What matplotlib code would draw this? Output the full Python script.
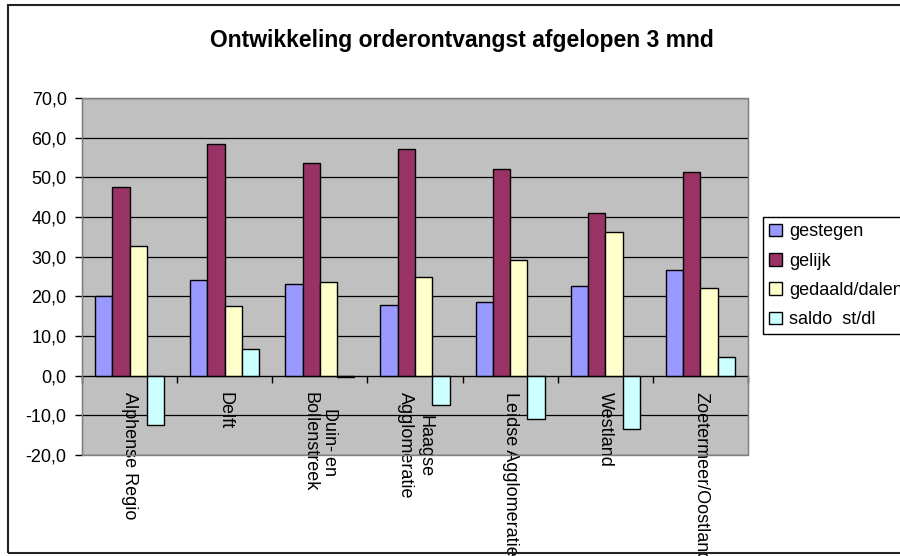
import matplotlib
matplotlib.use("Agg")
import matplotlib.pyplot as plt
from matplotlib.patches import Rectangle
from matplotlib.ticker import FuncFormatter, FixedLocator
import numpy as np

plt.rcParams['font.family'] = ['Liberation Sans', 'DejaVu Sans']

# data
regios = ["Alphense Regio", "Delft", "Duin- en\nBollenstreek", "Haagse\nAgglomeratie",
          "Leidse Agglomeratie", "Westland", "Zoetermeer/Oostland"]
gestegen = [20.0, 24.0, 23.0, 17.7, 18.5, 22.7, 26.6]
gelijk = [47.6, 58.5, 53.5, 57.1, 52.2, 40.9, 51.4]
gedaald = [32.6, 17.5, 23.5, 25.0, 29.2, 36.1, 22.0]
saldo = [-12.4, 6.7, -0.3, -7.3, -10.8, -13.4, 4.8]

series = [("gestegen", gestegen, "#9999FF"),
          ("gelijk", gelijk, "#993366"),
          ("gedaald/dalen", gedaald, "#FFFFCC"),
          ("saldo  st/dl", saldo, "#CCFFFF")]

fig = plt.figure(figsize=(9, 5.56), dpi=100)
ax = fig.add_axes([82/900, 1-455/556, 666/900, 357/556])
ax.set_facecolor("#C0C0C0")

n = len(regios)
x = np.arange(n)
w = 1/5.5
for k, (name, vals, col) in enumerate(series):
    ax.bar(x + 0.75*w + (k+0.5)*w, vals, width=w, color=col, edgecolor="black",
           linewidth=1, label=name, zorder=3)

ax.set_xlim(0, n)
ax.set_ylim(-20, 70)
ax.set_yticks(np.arange(-20, 71, 10))
ax.yaxis.set_major_formatter(FuncFormatter(lambda v, p: ("%.1f" % v).replace(".", ",")))
ax.grid(axis="y", color="black", linewidth=0.9, zorder=1)
ax.tick_params(axis="y", labelsize=13, length=5, width=1, pad=6, direction="out")

# category axis sits at zero
ax.spines["bottom"].set_position(("data", 0))
ax.spines["bottom"].set_color("black")
ax.spines["bottom"].set_zorder(4)
ax.spines["left"].set_color("black")
for s in ["top", "right"]:
    ax.spines[s].set_color("#808080")
ax.add_patch(Rectangle((0, 0), 1, 1, transform=ax.transAxes, fill=False,
                       edgecolor="#808080", linewidth=1, zorder=5, clip_on=False))

ax.xaxis.set_major_locator(FixedLocator(np.arange(0, n+1)))
ax.xaxis.set_major_formatter(FuncFormatter(lambda v, p: ""))
ax.set_xticks(x + 0.5, minor=True)
ax.set_xticklabels(regios, minor=True, rotation=270, fontsize=13,
                   va="top", ha="center", multialignment="center")
ax.tick_params(axis="x", which="major", length=5, width=1, direction="out")
ax.tick_params(axis="x", which="minor", length=0, pad=12)

fig.text(462/900, 1-41/556, "Ontwikkeling orderontvangst afgelopen 3 mnd",
         ha="center", va="center", fontsize=16.5, fontweight="bold")

leg = fig.legend(loc="upper left", bbox_to_anchor=(763/900, 1-217/556), fontsize=13,
                 frameon=True, fancybox=False, edgecolor="black", framealpha=1,
                 handlelength=0.7, handleheight=0.7, handletextpad=0.4,
                 labelspacing=0.68, borderpad=0.35, borderaxespad=0)
leg.get_frame().set_linewidth(1)

fig.patches.append(Rectangle((8/900, 1-553/556), 1.0, (553-5)/556,
                             transform=fig.transFigure, fill=False,
                             edgecolor="#222222", linewidth=1.5))

fig.savefig("out.png", dpi=100)
